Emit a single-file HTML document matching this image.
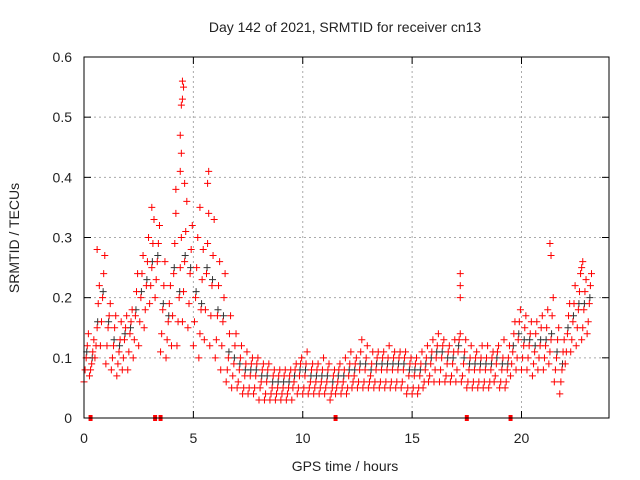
<!DOCTYPE html>
<html><head><meta charset="utf-8"><style>
body{margin:0;background:#fff}
svg{display:block;font-family:"Liberation Sans",sans-serif}
</style></head><body>
<svg id="chart" width="640" height="480" xmlns="http://www.w3.org/2000/svg">
<rect width="640" height="480" fill="#fff"/>
<text x="345" y="32" text-anchor="middle" font-size="14" fill="#222">Day 142 of 2021, SRMTID for receiver cn13</text>
<text x="345" y="471" text-anchor="middle" font-size="14" fill="#222">GPS time / hours</text>
<text transform="translate(19,238) rotate(-90)" text-anchor="middle" font-size="14" fill="#222">SRMTID / TECUs</text>
<g id="grid"></g><g id="axes"></g><g id="marks"></g>
<rect x="84" y="57" width="525" height="361" fill="none" stroke="#000" stroke-width="1"/>
</svg>
<script>
const xTicks=[0,5,10,15,20];
const yTicks=[0,0.1,0.2,0.3,0.4,0.5,0.6];
const yTickLabels=["0","0.1","0.2","0.3","0.4","0.5","0.6"];
const tStart=0, tStep=0.25;
const lowVals=[0.06,0.07,0.10,0.12,0.09,0.08,0.07,0.08,0.08,0.10,0.12,0.15,0.19,0.20,0.11,0.10,0.12,0.12,0.16,0.15,0.12,0.10,0.13,0.12,0.10,0.08,0.06,0.05,0.05,0.04,0.04,0.04,0.03,0.03,0.03,0.03,0.03,0.03,0.03,0.04,0.04,0.04,0.04,0.04,0.04,0.03,0.04,0.04,0.04,0.05,0.05,0.05,0.05,0.05,0.05,0.05,0.05,0.05,0.05,0.04,0.04,0.04,0.05,0.06,0.06,0.06,0.06,0.06,0.06,0.06,0.05,0.05,0.05,0.05,0.05,0.06,0.05,0.05,0.07,0.08,0.08,0.08,0.07,0.08,0.08,0.09,0.06,0.04,0.09,0.11,0.12,0.13,0.14];
const q1Vals=[0.08,0.08,0.12,0.16,0.12,0.10,0.09,0.10,0.11,0.13,0.16,0.18,0.22,0.23,0.14,0.13,0.17,0.16,0.21,0.19,0.16,0.14,0.18,0.17,0.13,0.12,0.08,0.07,0.06,0.05,0.05,0.05,0.05,0.04,0.04,0.04,0.04,0.04,0.05,0.05,0.05,0.05,0.05,0.05,0.05,0.04,0.05,0.05,0.05,0.06,0.06,0.06,0.06,0.06,0.06,0.06,0.06,0.06,0.06,0.05,0.05,0.05,0.06,0.07,0.08,0.08,0.07,0.07,0.08,0.07,0.06,0.06,0.06,0.06,0.06,0.07,0.06,0.06,0.09,0.10,0.10,0.10,0.09,0.10,0.10,0.11,0.08,0.06,0.11,0.13,0.15,0.15,0.16];
const midVals=[0.10,0.09,0.15,0.20,0.15,0.12,0.11,0.13,0.14,0.17,0.20,0.22,0.25,0.26,0.18,0.16,0.24,0.20,0.26,0.24,0.20,0.18,0.24,0.22,0.17,0.16,0.10,0.09,0.08,0.07,0.07,0.07,0.06,0.06,0.05,0.05,0.05,0.05,0.06,0.07,0.07,0.06,0.06,0.06,0.06,0.05,0.06,0.06,0.07,0.07,0.08,0.08,0.07,0.08,0.08,0.08,0.08,0.08,0.08,0.07,0.07,0.07,0.08,0.09,0.10,0.10,0.09,0.09,0.11,0.09,0.08,0.08,0.08,0.08,0.08,0.09,0.08,0.08,0.11,0.13,0.12,0.12,0.11,0.12,0.12,0.13,0.10,0.08,0.14,0.16,0.18,0.18,0.19];
const q3Vals=[0.12,0.11,0.19,0.24,0.17,0.15,0.13,0.15,0.16,0.21,0.24,0.26,0.29,0.29,0.22,0.19,0.29,0.25,0.31,0.28,0.25,0.23,0.29,0.27,0.22,0.20,0.14,0.12,0.10,0.09,0.09,0.09,0.08,0.08,0.07,0.07,0.07,0.07,0.08,0.09,0.09,0.08,0.08,0.08,0.08,0.07,0.08,0.08,0.09,0.09,0.11,0.10,0.09,0.10,0.10,0.10,0.10,0.10,0.10,0.09,0.09,0.09,0.10,0.11,0.12,0.12,0.11,0.11,0.13,0.11,0.10,0.10,0.10,0.10,0.10,0.11,0.10,0.10,0.14,0.16,0.15,0.14,0.14,0.15,0.15,0.17,0.13,0.11,0.17,0.19,0.21,0.21,0.22];
const highVals=[0.14,0.13,0.22,0.27,0.19,0.17,0.16,0.17,0.18,0.24,0.27,0.30,0.33,0.32,0.26,0.22,0.34,0.30,0.36,0.32,0.30,0.28,0.34,0.33,0.26,0.24,0.17,0.14,0.12,0.11,0.10,0.10,0.09,0.09,0.08,0.08,0.08,0.08,0.09,0.10,0.11,0.09,0.09,0.10,0.09,0.08,0.09,0.10,0.11,0.10,0.13,0.12,0.11,0.11,0.11,0.12,0.11,0.11,0.11,0.10,0.10,0.11,0.12,0.13,0.14,0.13,0.12,0.13,0.14,0.13,0.12,0.11,0.12,0.12,0.11,0.12,0.13,0.12,0.16,0.18,0.17,0.16,0.16,0.17,0.18,0.20,0.15,0.13,0.19,0.22,0.24,0.23,0.24];
const outlierTimes=[4.5,4.55,4.5,4.45,4.4,4.45,4.4,4.6,5.7,5.65,3.1,0.6,17.2,17.2,17.2,21.3,21.35,22.8,22.75,4.2,5.3];
const outlierVals=[0.56,0.55,0.53,0.52,0.47,0.44,0.41,0.39,0.41,0.39,0.35,0.28,0.24,0.22,0.20,0.29,0.27,0.26,0.25,0.38,0.35];
const gapTimes=[0.3,3.25,3.5,11.5,17.5,19.5];

const NS="http://www.w3.org/2000/svg";
const X0=84,X1=609,Y0=418,Y1=57,XMAX=24,YMAX=0.6;
function xs(t){return X0+t/XMAX*(X1-X0);}
function ys(v){return Y0-v/YMAX*(Y0-Y1);}
function mk(tag,attrs,parent){const e=document.createElementNS(NS,tag);for(const k in attrs)e.setAttribute(k,attrs[k]);parent.appendChild(e);return e;}
const grid=document.getElementById('grid'),axes=document.getElementById('axes'),marks=document.getElementById('marks');
yTicks.forEach((v,i)=>{
  const y=ys(v);
  if(v>0&&v<YMAX){const g=mk('line',{x1:X0,x2:X1,y1:y,y2:y,stroke:'#aaa','stroke-dasharray':'2,3'},grid);
  
  }
  mk('line',{x1:X0,x2:X0+7,y1:y,y2:y,stroke:'#000'},axes);
  mk('line',{x1:X1,x2:X1-7,y1:y,y2:y,stroke:'#000'},axes);
  const t=mk('text',{x:72,y:y+5,'text-anchor':'end','font-size':14,fill:'#222'},axes);
  t.textContent=yTickLabels[i];
  
  
});
xTicks.forEach(v=>{
  const x=xs(v);
  if(v>0){const g=mk('line',{x1:x,x2:x,y1:Y0,y2:Y1,stroke:'#aaa','stroke-dasharray':'2,3'},grid);
  
  }
  mk('line',{x1:x,x2:x,y1:Y0,y2:Y0-7,stroke:'#000'},axes);
  mk('line',{x1:x,x2:x,y1:Y1,y2:Y1+7,stroke:'#000'},axes);
  const t=mk('text',{x:x,y:443,'text-anchor':'middle','font-size':14,fill:'#222'},axes);
  t.textContent=String(v);
  
  
});
function cross(t,v,color,name){
  const x=xs(t),y=ys(v);
  const p=mk('path',{d:`M${x-3.5},${y}H${x+3.5}M${x},${y-3.5}V${y+3.5}`,stroke:color,'stroke-width':1,fill:'none'},marks);
  
  
}
midVals.forEach((v,i)=>cross(tStart+i*tStep+0.125,v+0.01,'#333','gray-point'));
lowVals.forEach((v,i)=>cross(tStart+i*tStep,v,'#f00','srmtid-point'));
q1Vals.forEach((v,i)=>cross(tStart+i*tStep+0.05,v,'#f00','srmtid-point'));
midVals.forEach((v,i)=>cross(tStart+i*tStep+0.1,v,'#f00','srmtid-point'));
q3Vals.forEach((v,i)=>cross(tStart+i*tStep+0.15,v,'#f00','srmtid-point'));
highVals.forEach((v,i)=>cross(tStart+i*tStep+0.2,v,'#f00','srmtid-point'));
outlierVals.forEach((v,i)=>cross(outlierTimes[i],v,'#f00','srmtid-outlier'));
gapTimes.forEach(t=>{
  const r=mk('rect',{x:xs(t)-2,y:Y0-3,width:4,height:6,fill:'#f00'},marks);
  
  
});
</script>
</body></html>
